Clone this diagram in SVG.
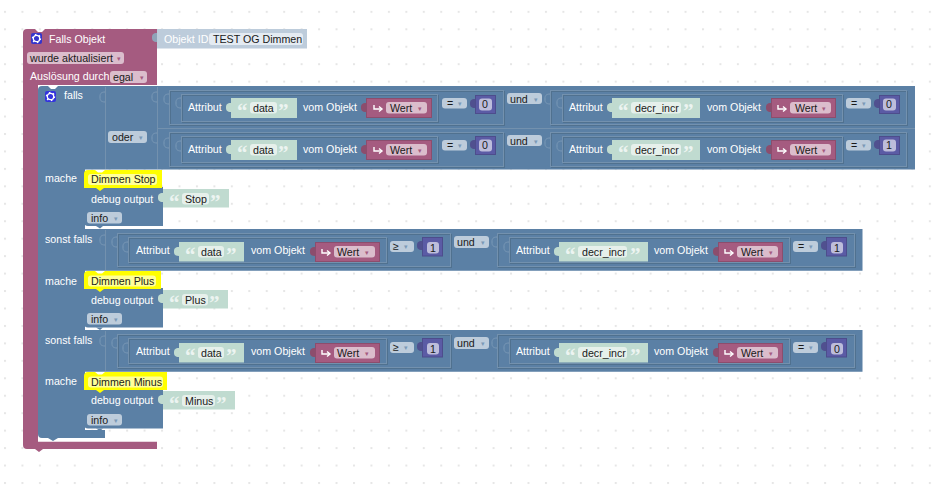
<svg xmlns="http://www.w3.org/2000/svg" width="932" height="489" viewBox="0 0 932 489">
<defs>
<pattern id="grid" width="17.45" height="17.45" patternUnits="userSpaceOnUse" x="4" y="10.85"><rect x="0" y="0" width="2" height="2" fill="#e6e6e6"/></pattern>
<path id="t" d="M0 0c-4 0-5 2-5 4v1c0 2 1 4 5 4z"/>
<path id="o" d="M0 0c-4 0-5 2-5 4v2c0 2 1 4 5 4" fill="#5b80a5" stroke="#7b99b7"/>
<g id="ic" fill="none" stroke="#fff" stroke-width="1.400"><path d="M1 0V4H8"/><path d="M6 1.500L9 4L6 6.500"/></g>
<g id="gear"><rect width="11" height="11" rx="2"/><circle cx="5.500" cy="5.500" r="3.200" fill="none" stroke="#fff" stroke-width="1.300"/><circle cx="5.500" cy="5.500" r="4" fill="none" stroke="#fff" stroke-width="1.400" stroke-dasharray="1.500 2.690"/></g>
</defs>
<style>
text{font-family:"Liberation Sans",Arial,sans-serif;font-size:10.67px;fill:#fff}
.d{fill:#1a1a1a}
.blue{fill:#5b80a5}
.pink{fill:#a55b80}
.pb{fill:#a55b80;stroke:#8c4d6d}
.fl{fill:none;stroke:#7391ae}
.fd{fill:none;stroke:#50718f}
.green{fill:#c0dbd0}
.field{fill:#e6f0eb}
.dd{fill:#bdccdb}
.ddp{fill:#dbbdcc}
.num{fill:#5b5ba5;stroke:#4d4d8c}
.numt{fill:#50508f}
.numf{fill:#bdbddb}
.pt{fill:#8c4d6d}
.arr{fill:#7b99b7;font-size:7px}
.arrp{fill:#a55b80;font-size:7px}
.q{fill:#fff;opacity:.7;font-family:"Liberation Serif",serif;font-size:21px;font-weight:bold}
</style>
<rect width="932" height="489" fill="#fff"/>
<rect width="932" height="489" fill="url(#grid)"/>
<g id="connectors"></g>
<g id="falls-objekt">
<path class="pink" d="M27 29H35L38 32H42L45 29H157V85H38V441.700H157V449H43L39 452L35 449H27Q23 449 23 445V33Q23 29 27 29Z"/>
<use href="#gear" x="31" y="33" fill="#3333cc"/>
<text x="49" y="43">Falls Objekt</text>
<rect x="27" y="52" width="97" height="12" rx="3" class="ddp"/>
<text class="d" x="30" y="62">wurde aktualisiert</text><text class="arrp" x="117" y="61">▾</text>
<text x="30" y="80">Auslösung durch</text>
<rect x="110" y="71" width="37" height="12" rx="3" class="ddp"/>
<text class="d" x="113" y="81">egal</text><text class="arrp" x="140" y="80">▾</text>
</g>
<g id="objekt-id">
<use href="#t" x="157" y="33" fill="#8fa3b8"/>
<rect x="157" y="29" width="150" height="19.500" fill="#bdccdb"/>
<text x="164" y="43">Objekt ID</text>
<rect x="209" y="33" width="94" height="12" rx="3" fill="#e4ebf2"/>
<text class="d" x="213" y="43">TEST OG Dimmen</text>
</g>
<g id="falls">
<path class="blue" d="M42 86H48L51 89H55L58 86H915V169.500H85V229H862.500V270.700H85V330H862.500V371.700H85V430H105V438H58L53 441L48 438H42Q38 438 38 434V90Q38 86 42 86Z"/>
<use href="#gear" x="45" y="91" fill="#3333dd"/>
<text x="64" y="99">falls</text>
<path class="fl" d="M105.500 87V169"/>
<use href="#o" x="105" y="92"/>
<rect x="108" y="131" width="39" height="12" rx="3" class="dd"/><text class="d" x="112" y="141">oder</text><text class="arr" x="139" y="140">▾</text>
<text x="45" y="182">mache</text>
<text x="45" y="243">sonst falls</text>
<text x="45" y="285">mache</text>
<text x="45" y="344">sonst falls</text>
<text x="45" y="385">mache</text>
</g>
<g id="cond-oder">
<path class="fl" d="M157.500 87V169M157 128.500H915"/>
<use href="#o" x="157" y="92"/><use href="#o" x="157" y="133"/>
<rect x="170.500" y="91.500" width="334" height="34" class="fd"/><rect x="169.500" y="90.500" width="334" height="34" class="fl"/>
<rect x="551.500" y="91.500" width="356" height="34" class="fd"/><rect x="550.500" y="90.500" width="356" height="34" class="fl"/>
<rect x="170.500" y="133.500" width="334" height="34" class="fd"/><rect x="169.500" y="132.500" width="334" height="34" class="fl"/>
<rect x="551.500" y="133.500" width="356" height="34" class="fd"/><rect x="550.500" y="132.500" width="356" height="34" class="fl"/>
<rect x="182.500" y="95.500" width="256" height="27" class="fd"/><rect x="181.500" y="94.500" width="256" height="27" class="fl"/>
<rect x="563.500" y="95.500" width="280" height="27" class="fd"/><rect x="562.500" y="94.500" width="280" height="27" class="fl"/>
<rect x="182.500" y="137.500" width="256" height="26" class="fd"/><rect x="181.500" y="136.500" width="256" height="26" class="fl"/>
<rect x="563.500" y="137.500" width="280" height="26" class="fd"/><rect x="562.500" y="136.500" width="280" height="26" class="fl"/>
<use href="#o" x="169" y="94"/><use href="#o" x="181" y="98"/><use href="#o" x="550" y="94"/><use href="#o" x="562" y="98"/>
<use href="#o" x="169" y="138"/><use href="#o" x="181" y="141"/><use href="#o" x="550" y="138"/><use href="#o" x="562" y="141"/>
</g>
<g id="row1">
<text x="188" y="111">Attribut</text>
<use href="#t" x="231" y="103" fill="#c0dbd0"/>
<rect x="231" y="98" width="66" height="20" class="green"/><text class="q" x="237" y="118">“</text><rect x="250" y="102" width="27" height="11.500" rx="3" class="field"/><text class="d" x="253" y="112">data</text><text class="q" x="278" y="118">”</text>
<text x="303" y="111">vom Objekt</text>
<use href="#t" x="366" y="103" class="pt"/>
<rect x="366.500" y="98.500" width="65" height="19" class="pb"/><rect x="386" y="102" width="41" height="11.500" rx="3" class="ddp"/><use href="#ic" x="373" y="105"/><text class="d" x="390" y="112">Wert</text><text class="arrp" x="418" y="111">▾</text>
<rect x="442" y="98" width="25" height="10.500" rx="3" class="dd"/><text class="d" x="447" y="107">=</text><text class="arr" x="458" y="106">▾</text>
<use href="#t" x="475" y="99" class="numt"/>
<rect x="475.500" y="95.500" width="20" height="18" class="num"/><rect x="479" y="98.500" width="13" height="12" rx="3" class="numf"/><text class="d" x="482" y="108">0</text>
<rect x="507" y="93" width="35" height="11" rx="3" class="dd"/><text class="d" x="510" y="103">und</text><text class="arr" x="534" y="102">▾</text>
<text x="569" y="111">Attribut</text>
<use href="#t" x="612" y="103" fill="#c0dbd0"/>
<rect x="612" y="98" width="88" height="20" class="green"/><text class="q" x="618" y="118">“</text><rect x="631" y="102" width="50" height="11.500" rx="3" class="field"/><text class="d" x="635" y="112">decr_incr</text><text class="q" x="683" y="118">”</text>
<text x="707" y="111">vom Objekt</text>
<use href="#t" x="771" y="103" class="pt"/>
<rect x="771.500" y="98.500" width="64" height="19" class="pb"/><rect x="790" y="102" width="41" height="11.500" rx="3" class="ddp"/><use href="#ic" x="777" y="105"/><text class="d" x="795" y="112">Wert</text><text class="arrp" x="822" y="111">▾</text>
<rect x="846" y="98" width="25" height="10.500" rx="3" class="dd"/><text class="d" x="851" y="107">=</text><text class="arr" x="862" y="106">▾</text>
<use href="#t" x="879" y="99" class="numt"/>
<rect x="879.500" y="95.500" width="20" height="18" class="num"/><rect x="883" y="98.500" width="13" height="12" rx="3" class="numf"/><text class="d" x="886" y="108">0</text>
</g>
<g id="row2">
<text x="188" y="153">Attribut</text>
<use href="#t" x="231" y="145" fill="#c0dbd0"/>
<rect x="231" y="140" width="66" height="20" class="green"/><text class="q" x="237" y="160">“</text><rect x="250" y="144" width="27" height="11.500" rx="3" class="field"/><text class="d" x="253" y="154">data</text><text class="q" x="278" y="160">”</text>
<text x="303" y="153">vom Objekt</text>
<use href="#t" x="366" y="145" class="pt"/>
<rect x="366.500" y="140.500" width="65" height="19" class="pb"/><rect x="386" y="144" width="41" height="11.500" rx="3" class="ddp"/><use href="#ic" x="373" y="147"/><text class="d" x="390" y="154">Wert</text><text class="arrp" x="418" y="153">▾</text>
<rect x="442" y="140" width="25" height="10.500" rx="3" class="dd"/><text class="d" x="447" y="149">=</text><text class="arr" x="458" y="148">▾</text>
<use href="#t" x="475" y="140" class="numt"/>
<rect x="475.500" y="136.500" width="20" height="18" class="num"/><rect x="479" y="139.500" width="13" height="12" rx="3" class="numf"/><text class="d" x="482" y="149">0</text>
<rect x="507" y="135" width="35" height="11" rx="3" class="dd"/><text class="d" x="510" y="145">und</text><text class="arr" x="534" y="144">▾</text>
<text x="569" y="153">Attribut</text>
<use href="#t" x="612" y="145" fill="#c0dbd0"/>
<rect x="612" y="140" width="88" height="20" class="green"/><text class="q" x="618" y="160">“</text><rect x="631" y="144" width="50" height="11.500" rx="3" class="field"/><text class="d" x="635" y="154">decr_incr</text><text class="q" x="683" y="160">”</text>
<text x="707" y="153">vom Objekt</text>
<use href="#t" x="771" y="145" class="pt"/>
<rect x="771.500" y="140.500" width="64" height="19" class="pb"/><rect x="790" y="144" width="41" height="11.500" rx="3" class="ddp"/><use href="#ic" x="777" y="147"/><text class="d" x="795" y="154">Wert</text><text class="arrp" x="822" y="153">▾</text>
<rect x="846" y="140" width="25" height="10.500" rx="3" class="dd"/><text class="d" x="851" y="149">=</text><text class="arr" x="862" y="148">▾</text>
<use href="#t" x="879" y="140" class="numt"/>
<rect x="879.500" y="136.500" width="20" height="18" class="num"/><rect x="883" y="139.500" width="13" height="12" rx="3" class="numf"/><text class="d" x="886" y="149">1</text>
</g>
<g id="dimmen-stop">
<path class="blue" d="M84 187H163V226H88Q84 226 84 222Z"/>
<path class="blue" d="M96 226H103L100 228.500Z"/>
<path d="M84 188V174Q84 170 88 170H95L98 172.500H102L105 170H162V188H104L100 191L96 188Z" fill="#ff0"/>
<rect x="88" y="174" width="69" height="11" rx="3" fill="#ffff99"/>
<text class="d" x="91" y="183">Dimmen Stop</text>
<text x="91" y="203">debug output</text>
<use href="#t" x="163" y="193" fill="#c0dbd0"/>
<rect x="163" y="189" width="66" height="18.500" class="green"/><text class="q" x="169" y="209">“</text><rect x="182" y="193" width="27" height="11.500" rx="3" class="field"/><text class="d" x="185" y="203">Stop</text><text class="q" x="210" y="209">”</text>
<rect x="87" y="212" width="35" height="11.500" rx="3" class="dd"/><text class="d" x="91" y="222">info</text><text class="arr" x="114" y="221">▾</text>
</g>
<g id="cond-1">
<path class="fl" d="M105.500 230V270"/><use href="#o" x="105" y="235"/>
<rect x="118.500" y="234.500" width="333" height="33" class="fd"/><rect x="117.500" y="233.500" width="333" height="33" class="fl"/>
<rect x="498.500" y="234.500" width="357" height="33" class="fd"/><rect x="497.500" y="233.500" width="357" height="33" class="fl"/>
<rect x="129.500" y="238.500" width="258" height="25" class="fd"/><rect x="128.500" y="237.500" width="258" height="25" class="fl"/>
<rect x="510.500" y="238.500" width="280" height="25" class="fd"/><rect x="509.500" y="237.500" width="280" height="25" class="fl"/>
<use href="#o" x="117" y="237"/><use href="#o" x="128" y="242"/><use href="#o" x="497" y="237"/><use href="#o" x="509" y="242"/>
<text x="136" y="254">Attribut</text>
<use href="#t" x="179" y="247" fill="#c0dbd0"/>
<rect x="179" y="242" width="65" height="19.500" class="green"/><text class="q" x="185" y="262">“</text><rect x="198" y="246" width="26" height="11.500" rx="3" class="field"/><text class="d" x="201" y="256">data</text><text class="q" x="226" y="262">”</text>
<text x="251" y="254">vom Objekt</text>
<use href="#t" x="315" y="247" class="pt"/>
<rect x="315.500" y="242.500" width="64" height="19" class="pb"/><rect x="334" y="246" width="41" height="11.500" rx="3" class="ddp"/><use href="#ic" x="321" y="249"/><text class="d" x="337" y="256">Wert</text><text class="arrp" x="365" y="255">▾</text>
<rect x="390" y="241" width="24" height="11" rx="3" class="dd"/><text class="d" x="393" y="250">≥</text><text class="arr" x="404" y="249">▾</text>
<use href="#t" x="422" y="241" class="numt"/>
<rect x="422.500" y="237.500" width="20" height="18.500" class="num"/><rect x="427" y="242" width="12" height="11.500" rx="3" class="numf"/><text class="d" x="430" y="252">1</text>
<rect x="454" y="236" width="35" height="12" rx="3" class="dd"/><text class="d" x="457" y="246">und</text><text class="arr" x="481" y="245">▾</text>
<text x="516" y="254">Attribut</text>
<use href="#t" x="559" y="247" fill="#c0dbd0"/>
<rect x="559" y="242" width="89" height="19.500" class="green"/><text class="q" x="565" y="262">“</text><rect x="578" y="246" width="49" height="11.500" rx="3" class="field"/><text class="d" x="582" y="256">decr_incr</text><text class="q" x="630" y="262">”</text>
<text x="654" y="254">vom Objekt</text>
<use href="#t" x="718" y="247" class="pt"/>
<rect x="718.500" y="242.500" width="64" height="19" class="pb"/><rect x="737" y="246" width="41" height="11.500" rx="3" class="ddp"/><use href="#ic" x="724" y="249"/><text class="d" x="741" y="256">Wert</text><text class="arrp" x="769" y="255">▾</text>
<rect x="793" y="241" width="25" height="11" rx="3" class="dd"/><text class="d" x="798" y="250">=</text><text class="arr" x="809" y="249">▾</text>
<use href="#t" x="826" y="241" class="numt"/>
<rect x="826.500" y="237.500" width="20" height="18.500" class="num"/><rect x="831" y="242" width="12" height="11.500" rx="3" class="numf"/><text class="d" x="834" y="252">1</text>
</g>
<g id="dimmen-plus">
<path class="blue" d="M84 288H163V327.500H88Q84 327.500 84 323.500Z"/>
<path class="blue" d="M96 327.500H103L100 330Z"/>
<path d="M84 289V275Q84 271 88 271H95L98 273.500H102L105 271H161V289H104L100 292L96 289Z" fill="#ff0"/>
<rect x="88" y="275.500" width="68" height="11" rx="3" fill="#ffff99"/>
<text class="d" x="91" y="284.500">Dimmen Plus</text>
<text x="91" y="304">debug output</text>
<use href="#t" x="163" y="294" fill="#c0dbd0"/>
<rect x="163" y="290" width="65" height="18.500" class="green"/><text class="q" x="169" y="310">“</text><rect x="182" y="294" width="26" height="11.500" rx="3" class="field"/><text class="d" x="185" y="304">Plus</text><text class="q" x="209" y="310">”</text>
<rect x="87" y="313" width="35" height="11.500" rx="3" class="dd"/><text class="d" x="91" y="323">info</text><text class="arr" x="114" y="322">▾</text>
</g>
<g id="cond-2">
<path class="fl" d="M105.500 331V371"/><use href="#o" x="105" y="336"/>
<rect x="118.500" y="335.500" width="333" height="33" class="fd"/><rect x="117.500" y="334.500" width="333" height="33" class="fl"/>
<rect x="498.500" y="335.500" width="357" height="33" class="fd"/><rect x="497.500" y="334.500" width="357" height="33" class="fl"/>
<rect x="129.500" y="339.500" width="258" height="25" class="fd"/><rect x="128.500" y="338.500" width="258" height="25" class="fl"/>
<rect x="510.500" y="339.500" width="280" height="25" class="fd"/><rect x="509.500" y="338.500" width="280" height="25" class="fl"/>
<use href="#o" x="117" y="338"/><use href="#o" x="128" y="343"/><use href="#o" x="497" y="338"/><use href="#o" x="509" y="343"/>
<text x="136" y="355">Attribut</text>
<use href="#t" x="179" y="348" fill="#c0dbd0"/>
<rect x="179" y="343" width="65" height="19.500" class="green"/><text class="q" x="185" y="363">“</text><rect x="198" y="347" width="26" height="11.500" rx="3" class="field"/><text class="d" x="201" y="357">data</text><text class="q" x="226" y="363">”</text>
<text x="251" y="355">vom Objekt</text>
<use href="#t" x="315" y="348" class="pt"/>
<rect x="315.500" y="343.500" width="64" height="19" class="pb"/><rect x="334" y="347" width="41" height="11.500" rx="3" class="ddp"/><use href="#ic" x="321" y="350"/><text class="d" x="337" y="357">Wert</text><text class="arrp" x="365" y="356">▾</text>
<rect x="390" y="342" width="24" height="11" rx="3" class="dd"/><text class="d" x="393" y="351">≥</text><text class="arr" x="404" y="350">▾</text>
<use href="#t" x="422" y="342" class="numt"/>
<rect x="422.500" y="338.500" width="20" height="18.500" class="num"/><rect x="427" y="343" width="12" height="11.500" rx="3" class="numf"/><text class="d" x="430" y="353">1</text>
<rect x="454" y="337" width="35" height="12" rx="3" class="dd"/><text class="d" x="457" y="347">und</text><text class="arr" x="481" y="346">▾</text>
<text x="516" y="355">Attribut</text>
<use href="#t" x="559" y="348" fill="#c0dbd0"/>
<rect x="559" y="343" width="89" height="19.500" class="green"/><text class="q" x="565" y="363">“</text><rect x="578" y="347" width="49" height="11.500" rx="3" class="field"/><text class="d" x="582" y="357">decr_incr</text><text class="q" x="630" y="363">”</text>
<text x="654" y="355">vom Objekt</text>
<use href="#t" x="718" y="348" class="pt"/>
<rect x="718.500" y="343.500" width="64" height="19" class="pb"/><rect x="737" y="347" width="41" height="11.500" rx="3" class="ddp"/><use href="#ic" x="724" y="350"/><text class="d" x="741" y="357">Wert</text><text class="arrp" x="769" y="356">▾</text>
<rect x="793" y="342" width="25" height="11" rx="3" class="dd"/><text class="d" x="798" y="351">=</text><text class="arr" x="809" y="350">▾</text>
<use href="#t" x="826" y="342" class="numt"/>
<rect x="826.500" y="338.500" width="20" height="18.500" class="num"/><rect x="831" y="343" width="12" height="11.500" rx="3" class="numf"/><text class="d" x="834" y="353">0</text>
</g>
<g id="dimmen-minus">
<path class="blue" d="M84 389H163V428.500H88Q84 428.500 84 424.500Z"/>
<path class="blue" d="M96 428.500H103L100 431Z"/>
<path d="M84 390V376Q84 372 88 372H95L98 374.500H102L105 372H167V390H104L100 393L96 390Z" fill="#ff0"/>
<rect x="88" y="376.500" width="75" height="11" rx="3" fill="#ffff99"/>
<text class="d" x="91" y="385.500">Dimmen Minus</text>
<text x="91" y="404">debug output</text>
<use href="#t" x="163" y="395" fill="#c0dbd0"/>
<rect x="163" y="391" width="72" height="18.500" class="green"/><text class="q" x="169" y="411">“</text><rect x="182" y="395" width="33" height="11.500" rx="3" class="field"/><text class="d" x="185" y="405">Minus</text><text class="q" x="216" y="411">”</text>
<rect x="87" y="414" width="35" height="11.500" rx="3" class="dd"/><text class="d" x="91" y="424">info</text><text class="arr" x="114" y="423">▾</text>
</g>
</svg>
